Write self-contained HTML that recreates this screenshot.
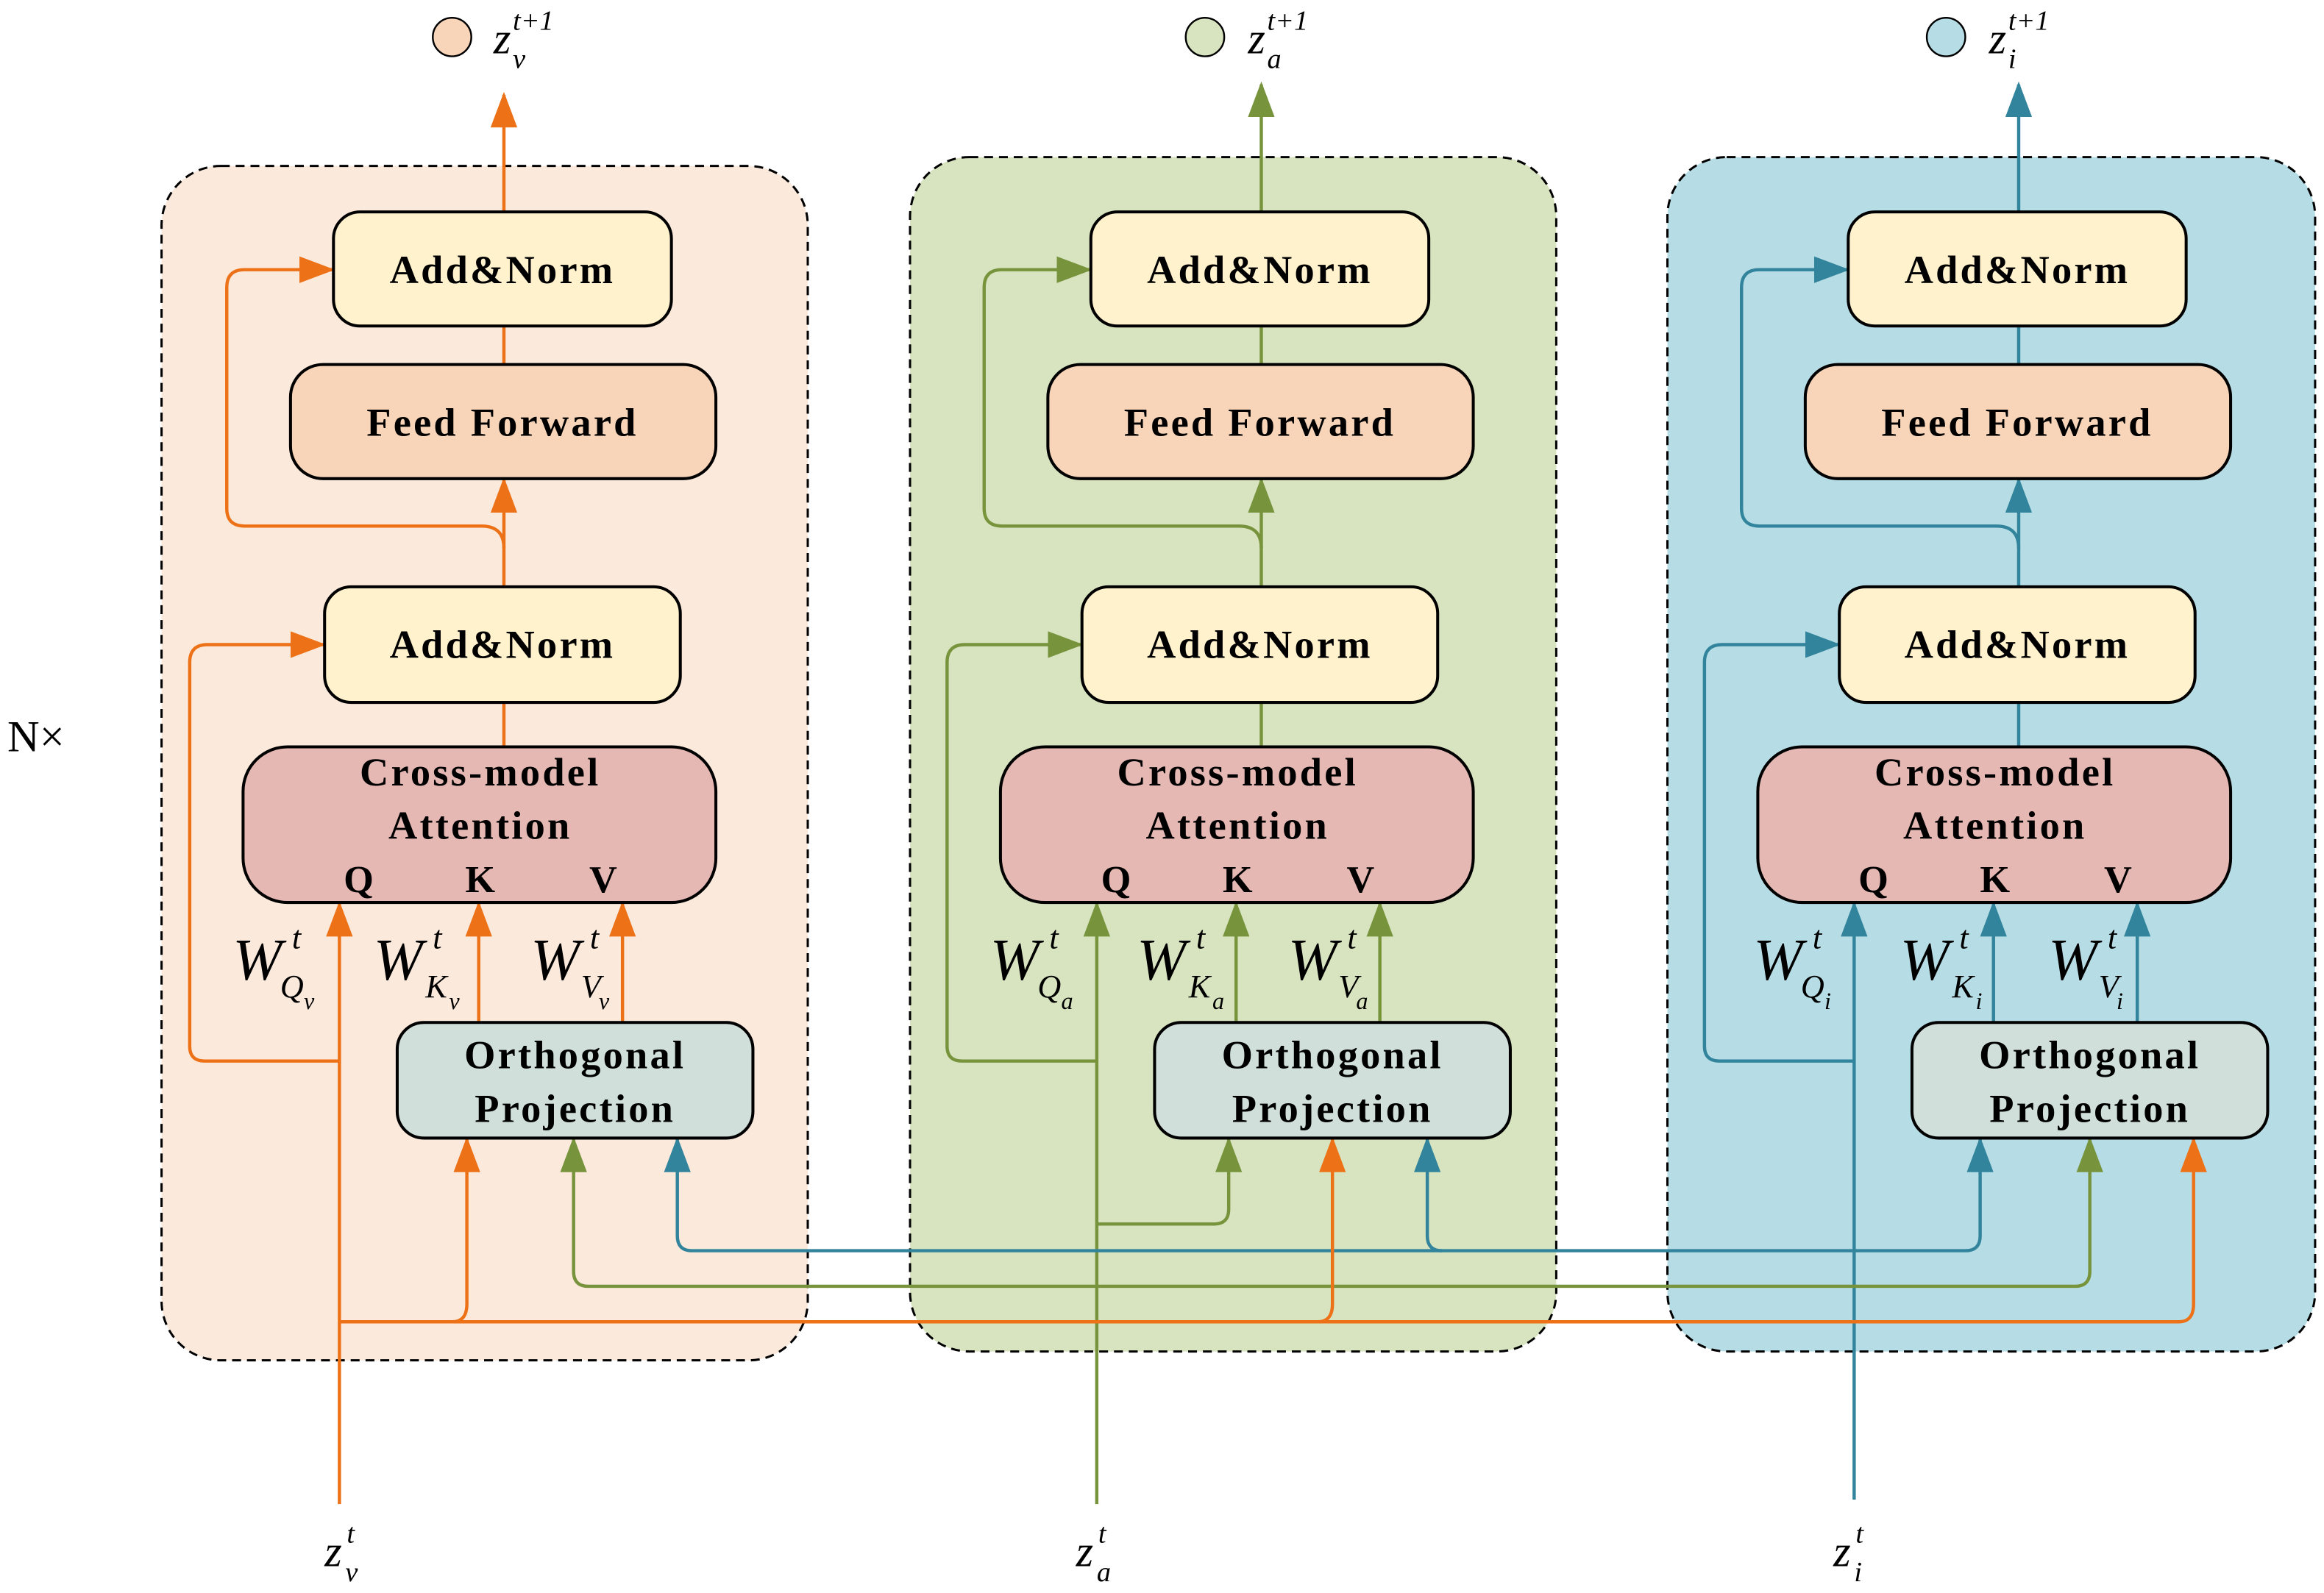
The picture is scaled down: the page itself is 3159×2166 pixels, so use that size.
<!DOCTYPE html>
<html><head><meta charset="utf-8"><style>html,body{margin:0;padding:0;background:#fff}svg{display:block}</style></head><body>
<svg width="3159" height="2166" viewBox="0 0 1568 1075" preserveAspectRatio="none" xmlns="http://www.w3.org/2000/svg" font-family="Liberation Serif, serif">
<defs>
<marker id="ao" markerUnits="userSpaceOnUse" markerWidth="24" markerHeight="18" refX="22" refY="9" orient="auto" viewBox="0 0 24 18"><path d="M0,0 L24,9 L0,18 Z" fill="#ED7117"/></marker>
<marker id="ag" markerUnits="userSpaceOnUse" markerWidth="24" markerHeight="18" refX="22" refY="9" orient="auto" viewBox="0 0 24 18"><path d="M0,0 L24,9 L0,18 Z" fill="#77933C"/></marker>
<marker id="ab" markerUnits="userSpaceOnUse" markerWidth="24" markerHeight="18" refX="22" refY="9" orient="auto" viewBox="0 0 24 18"><path d="M0,0 L24,9 L0,18 Z" fill="#31849B"/></marker>
<g id="boxes" stroke="#000" stroke-width="2">
<rect x="225" y="143" width="228" height="77" rx="18" fill="#FFF2CC"/>
<rect x="196" y="246" width="287" height="77" rx="22" fill="#F8D5B8"/>
<rect x="219" y="396" width="240" height="78" rx="18" fill="#FFF2CC"/>
<rect x="164" y="504" width="319" height="105" rx="30" fill="#E6B8B4"/>
<rect x="268" y="690" width="240" height="78" rx="18" fill="#D0DFD9"/>
</g>
<g id="btext" font-weight="bold" font-size="27" text-anchor="middle" fill="#000" letter-spacing="1.6">
<text x="339" y="191">Add&amp;Norm</text>
<text x="339" y="294">Feed Forward</text>
<text x="339" y="444">Add&amp;Norm</text>
<text x="324" y="530">Cross-model</text>
<text x="324" y="566">Attention</text>
<text x="242" y="602" font-size="26" letter-spacing="0">Q</text>
<text x="324" y="602" font-size="26" letter-spacing="0">K</text>
<text x="407" y="602" font-size="26" letter-spacing="0">V</text>
<text x="388" y="721">Orthogonal</text>
<text x="388" y="757">Projection</text>
</g>
</defs>
<rect x="109" y="112" width="436" height="806" rx="40" fill="#FBE9DC" stroke="#000" stroke-width="1.5" stroke-dasharray="6,4"/>
<rect x="614" y="106" width="436" height="806" rx="40" fill="#D7E4BF" stroke="#000" stroke-width="1.5" stroke-dasharray="6,4"/>
<rect x="1125" y="106" width="437" height="806" rx="40" fill="#B6DDE6" stroke="#000" stroke-width="1.5" stroke-dasharray="6,4"/>
<text x="5" y="507" font-size="30" fill="#000">N×</text>

<g fill="none" stroke-width="2.2">
<g stroke="#ED7117">
<path d="M340 143 V64" marker-end="url(#ao)"/>
<path d="M340 220 V246"/>
<path d="M340 474 V504"/>
<path d="M340 396 V324" marker-end="url(#ao)"/>
<path d="M340 370 Q340 355 325 355 H165 Q153 355 153 343 V194 Q153 182 165 182 H224" marker-end="url(#ao)"/>
<path d="M229 1015 V610" marker-end="url(#ao)"/>
<path d="M229 716 H138 Q128 716 128 706 V447 Q128 435 140 435 H218" marker-end="url(#ao)"/>
<path d="M323 690 V610" marker-end="url(#ao)"/>
<path d="M420 690 V610" marker-end="url(#ao)"/>
</g>
<g stroke="#77933C" transform="translate(511,0)">
<path d="M340 143 V57" marker-end="url(#ag)"/>
<path d="M340 220 V246"/>
<path d="M340 474 V504"/>
<path d="M340 396 V324" marker-end="url(#ag)"/>
<path d="M340 370 Q340 355 325 355 H165 Q153 355 153 343 V194 Q153 182 165 182 H224" marker-end="url(#ag)"/>
<path d="M229 1015 V610" marker-end="url(#ag)"/>
<path d="M229 716 H138 Q128 716 128 706 V447 Q128 435 140 435 H218" marker-end="url(#ag)"/>
<path d="M323 690 V610" marker-end="url(#ag)"/>
<path d="M420 690 V610" marker-end="url(#ag)"/>
</g>
<g stroke="#31849B" transform="translate(1022,0)">
<path d="M340 143 V57" marker-end="url(#ab)"/>
<path d="M340 220 V246"/>
<path d="M340 474 V504"/>
<path d="M340 396 V324" marker-end="url(#ab)"/>
<path d="M340 370 Q340 355 325 355 H165 Q153 355 153 343 V194 Q153 182 165 182 H224" marker-end="url(#ab)"/>
<path d="M229 1012 V610" marker-end="url(#ab)"/>
<path d="M229 716 H138 Q128 716 128 706 V447 Q128 435 140 435 H218" marker-end="url(#ab)"/>
<path d="M323 690 V610" marker-end="url(#ab)"/>
<path d="M420 690 V610" marker-end="url(#ab)"/>
</g>
<g stroke="#31849B">
<path d="M1250 844 H1326 Q1336 844 1336 834 V769" marker-end="url(#ab)"/>
<path d="M1250 844 H467 Q457 844 457 834 V769" marker-end="url(#ab)"/>
<path d="M973 844 Q963 844 963 834 V769" marker-end="url(#ab)"/>
</g>
<g stroke="#77933C">
<path d="M740 868 H1400 Q1410 868 1410 858 V769" marker-end="url(#ag)"/>
<path d="M740 868 H397 Q387 868 387 858 V769" marker-end="url(#ag)"/>
<path d="M740 826 H819 Q829 826 829 816 V769" marker-end="url(#ag)"/>
</g>
<g stroke="#ED7117">
<path d="M229 892 H1470 Q1480 892 1480 880 V769" marker-end="url(#ao)"/>
<path d="M229 892 H305 Q315 892 315 880 V769" marker-end="url(#ao)"/>
<path d="M889 892 Q899 892 899 880 V769" marker-end="url(#ao)"/>
</g>
</g>
<use href="#boxes"/><use href="#boxes" transform="translate(511,0)"/><use href="#boxes" transform="translate(1022,0)"/>
<use href="#btext"/><use href="#btext" transform="translate(511,0)"/><use href="#btext" transform="translate(1022,0)"/>

<g font-style="italic" fill="#000">
<g>
<text x="157" y="661" font-size="40">W</text><text x="197" y="640" font-size="22">t</text><text x="189" y="673" font-size="22">Q</text><text x="205" y="681" font-size="16">v</text>
<text x="252" y="661" font-size="40">W</text><text x="292" y="640" font-size="22">t</text><text x="287" y="673" font-size="22">K</text><text x="303" y="681" font-size="16">v</text>
<text x="358" y="661" font-size="40">W</text><text x="398" y="640" font-size="22">t</text><text x="392" y="673" font-size="22">V</text><text x="404" y="681" font-size="16">v</text>
</g>
<g transform="translate(511,0)">
<text x="157" y="661" font-size="40">W</text><text x="197" y="640" font-size="22">t</text><text x="189" y="673" font-size="22">Q</text><text x="205" y="681" font-size="16">a</text>
<text x="256" y="661" font-size="40">W</text><text x="296" y="640" font-size="22">t</text><text x="291" y="673" font-size="22">K</text><text x="307" y="681" font-size="16">a</text>
<text x="358" y="661" font-size="40">W</text><text x="398" y="640" font-size="22">t</text><text x="392" y="673" font-size="22">V</text><text x="404" y="681" font-size="16">a</text>
</g>
<g transform="translate(1026,0)">
<text x="157" y="661" font-size="40">W</text><text x="197" y="640" font-size="22">t</text><text x="189" y="673" font-size="22">Q</text><text x="205" y="681" font-size="16">i</text>
<text x="256" y="661" font-size="40">W</text><text x="296" y="640" font-size="22">t</text><text x="291" y="673" font-size="22">K</text><text x="307" y="681" font-size="16">i</text>
<text x="356" y="661" font-size="40">W</text><text x="396" y="640" font-size="22">t</text><text x="390" y="673" font-size="22">V</text><text x="402" y="681" font-size="16">i</text>
</g>
<text x="333" y="36" font-size="30">z</text><text x="346" y="20" font-size="19">t+1</text><text x="346" y="46" font-size="19">v</text>
<text x="842" y="36" font-size="30">z</text><text x="855" y="20" font-size="19">t+1</text><text x="855" y="46" font-size="19">a</text>
<text x="1342" y="36" font-size="30">z</text><text x="1355" y="20" font-size="19">t+1</text><text x="1355" y="46" font-size="19">i</text>
<text x="219" y="1057" font-size="30">z</text><text x="234" y="1041" font-size="19">t</text><text x="233" y="1067" font-size="19">v</text>
<text x="726" y="1057" font-size="30">z</text><text x="741" y="1041" font-size="19">t</text><text x="740" y="1067" font-size="19">a</text>
<text x="1237" y="1057" font-size="30">z</text><text x="1252" y="1041" font-size="19">t</text><text x="1251" y="1067" font-size="19">i</text>
</g>
<circle cx="305" cy="25" r="13" fill="#F8D5B8" stroke="#000" stroke-width="1.2"/>
<circle cx="813" cy="25" r="13" fill="#D7E4BF" stroke="#000" stroke-width="1.2"/>
<circle cx="1313" cy="25" r="13" fill="#B6DDE6" stroke="#000" stroke-width="1.2"/>
</svg>
</body></html>
